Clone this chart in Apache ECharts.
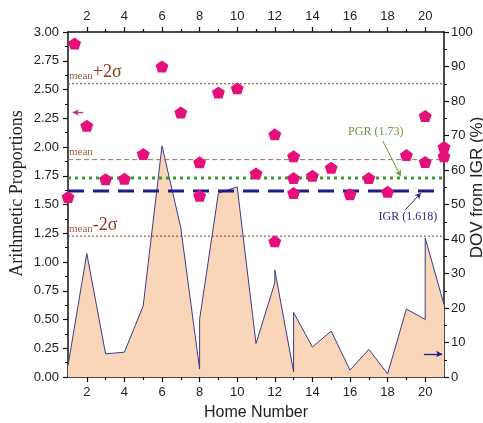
<!DOCTYPE html>
<html><head><meta charset="utf-8">
<script src="https://cdn.jsdelivr.net/npm/echarts@6/dist/echarts.min.js"></script>
<style>html,body{margin:0;padding:0;background:#fff}#c{width:483px;height:423px}</style>
</head><body><div id="c"></div>
<script>
// Home numbers for the DOV area (duplicated x = vertical jumps)
const areaX   = [1, 2, 3, 4, 5, 6, 7, 8, 8, 9, 10, 11, 12, 12, 13, 13, 14, 15, 16, 17, 18, 19, 20, 20, 21];
// DOV from IGR (%)
const areaDOV = [3.3, 35.8, 6.7, 7.2, 20.6, 67.0, 43.2, 2.3, 16.7, 53.3, 55.1, 9.7, 27.3, 31.0, 1.5, 18.7, 8.7, 13.3, 2.0, 8.0, 0.9, 19.7, 16.7, 40.3, 21.0];
// Arithmetic proportions (pentagons)
const propX = [1, 1.35, 2, 3, 4, 5, 6, 7, 8, 8, 9, 10, 11, 12, 12, 13, 13, 13, 14, 15, 16, 17, 18, 19, 20, 20, 21, 21];
const propY = [1.565, 2.90, 2.185, 1.72, 1.725, 1.94, 2.70, 2.30, 1.867, 1.577, 2.475, 2.51, 1.77, 2.11, 1.18, 1.92, 1.73, 1.60, 1.75, 1.82, 1.59, 1.73, 1.61, 1.93, 2.27, 1.87, 2.00, 1.92];
// reference levels
const refNames  = ['mean+2σ', 'mean', 'mean-2σ', 'PGR', 'IGR'];
const refValues = [2.55, 1.89, 1.225, 1.73, 1.618];
const evenTicks = [2, 4, 6, 8, 10, 12, 14, 16, 18, 20];
const oddTicks  = [3, 5, 7, 9, 11, 13, 15, 17, 19];

const chart = echarts.init(document.getElementById('c'));
const sans = 'Liberation Sans', serif = 'Liberation Serif';
const axCol = '#111';
const pentagon = 'path://M0,-1L0.951,-0.309L0.588,0.809L-0.588,0.809L-0.951,-0.309Z';

function xAx(pos, main, ticks, len, labels){
  return {
    type:'value', position:pos, min:1, max:21,
    axisLine:{show:main, onZero:false, lineStyle:{color:axCol, width:1.5}},
    axisTick:{show:true, customValues:ticks, length:len, inside:false, lineStyle:{color:axCol, width:1.2}},
    axisLabel:{show:labels, customValues:ticks, margin:9, fontFamily:sans, fontSize:13, color:'#222'},
    splitLine:{show:false},
    name: (pos==='bottom' && main) ? 'Home Number' : '',
    nameLocation:'middle', nameGap:28, nameMoveOverlap:false,
    nameTextStyle:{fontFamily:sans, fontSize:16, color:'#222'}
  };
}

const refStyles = [
  {color:'#7b3f2f', width:1, type:[2,2]},
  {color:'#9b6b55', width:1, type:[5,3]},
  {color:'#7b3f2f', width:1, type:[2,2]},
  {color:'#3a9a30', width:3, type:[3,4]},
  {color:'#1c1c8c', width:3, type:[16,9]}
];

const refSeries = refValues.map((v,i)=>({
  type:'line', name:refNames[i], xAxisIndex:0, yAxisIndex:0,
  data:[[1,v],[21,v]], symbol:'none', silent:true, z:3,
  lineStyle:refStyles[i]
}));

const option = {
  animation:false,
  backgroundColor:'#fff',
  grid:{left:68, right:39, top:32, bottom:46, containLabel:false, outerBoundsMode:'none'},
  xAxis:[
    xAx('bottom', true, evenTicks, 5, true),
    xAx('top', true, evenTicks, 5, true),
    xAx('bottom', false, oddTicks, 3, false),
    xAx('top', false, oddTicks, 3, false)
  ],
  yAxis:[
    {type:'value', position:'left', min:0, max:3, interval:0.25,
     axisLine:{show:true, lineStyle:{color:axCol, width:1.5}},
     axisTick:{show:true, length:5, lineStyle:{color:axCol, width:1.2}},
     minorTick:{show:true, splitNumber:2, length:3, lineStyle:{color:axCol}},
     axisLabel:{margin:9, fontFamily:sans, fontSize:13, color:'#222', formatter:v=>v.toFixed(2)},
     splitLine:{show:false},
     name:'Arithmetic Proportions', nameLocation:'middle', nameGap:42, nameRotate:90, nameMoveOverlap:false,
     nameTextStyle:{fontFamily:serif, fontSize:18, color:'#222', padding:[0,0,0,22]}},
    {type:'value', position:'right', min:0, max:100, interval:10,
     axisLine:{show:true, lineStyle:{color:axCol, width:1.5}},
     axisTick:{show:true, length:5, lineStyle:{color:axCol, width:1.2}},
     minorTick:{show:true, splitNumber:2, length:3, lineStyle:{color:axCol}},
     axisLabel:{margin:7, fontFamily:sans, fontSize:13, color:'#222'},
     splitLine:{show:false},
     name:'DOV from IGR (%)', nameLocation:'middle', nameGap:25, nameRotate:90, nameMoveOverlap:false,
     nameTextStyle:{fontFamily:sans, fontSize:17, color:'#222', padding:[0,0,0,34]}}
  ],
  series:[
    {type:'line', name:'DOV', xAxisIndex:0, yAxisIndex:1,
     data:areaX.map((x,i)=>[x, areaDOV[i]]), symbol:'none', z:1,
     lineStyle:{color:'#3b3b8c', width:1},
     areaStyle:{color:'#fad5b7', opacity:1}},
    ...refSeries,
    {type:'scatter', name:'AP', xAxisIndex:0, yAxisIndex:0,
     data:propX.map((x,i)=>[x, propY[i]]), symbol:pentagon, symbolSize:[13,12], z:5,
     itemStyle:{color:'#e6107a', opacity:1}},
    {type:'line', name:'arrows', xAxisIndex:0, yAxisIndex:0, data:[], silent:true, z:6,
     markLine:{silent:true, symbol:['none','arrow'], symbolSize:[5,6], label:{show:false},
       data:[
         [{coord:[1.8,2.30], lineStyle:{color:'#b5308a', width:1.3, type:'solid'}},{coord:[1.25,2.30]}],
         [{coord:[19.93,0.20], lineStyle:{color:'#1c1c8c', width:1.3, type:'solid'}},{coord:[20.9,0.20]}],
         [{coord:[17.75,2.05], lineStyle:{color:'#6a9a3a', width:1, type:'solid'}},{coord:[18.7,1.745]}],
         [{coord:[18.92,1.45], lineStyle:{color:'#2a2a8a', width:1, type:'solid'}},{coord:[19.77,1.60]}]
       ]}}
  ]
};
chart.setOption(option);

function px(x,y){ return chart.convertToPixel({xAxisIndex:0, yAxisIndex:0}, [x,y]); }
const g = [];
function meanLabel(val, suffix){
  const p = px(1, val);
  g.push({type:'text', x:p[0]+1, y:p[1]-2, z:10, silent:true,
    style:{text: suffix ? '{s|mean}{b|'+suffix+'}' : '{s|mean}', textVerticalAlign:'bottom',
      rich:{s:{fontFamily:serif, fontSize:11, fill:'#a0603c', verticalAlign:'bottom'},
            b:{fontFamily:serif, fontSize:18, fill:'#8b3a1a', verticalAlign:'bottom'}}}});
}
meanLabel(refValues[0], '+2σ');
meanLabel(refValues[1], '');
meanLabel(refValues[2], '-2σ');
const pg = px(17.37, 2.13);
g.push({type:'text', x:pg[0], y:pg[1], z:10, silent:true,
  style:{text:'PGR (1.73)', fontFamily:serif, fontSize:12, fill:'#6a9a3a', align:'center', verticalAlign:'middle'}});
const ig = px(19.08, 1.39);
g.push({type:'text', x:ig[0], y:ig[1], z:10, silent:true,
  style:{text:'IGR (1.618)', fontFamily:serif, fontSize:12, fill:'#2a2a8a', align:'center', verticalAlign:'middle'}});
chart.setOption({graphic:g});
</script></body></html>
